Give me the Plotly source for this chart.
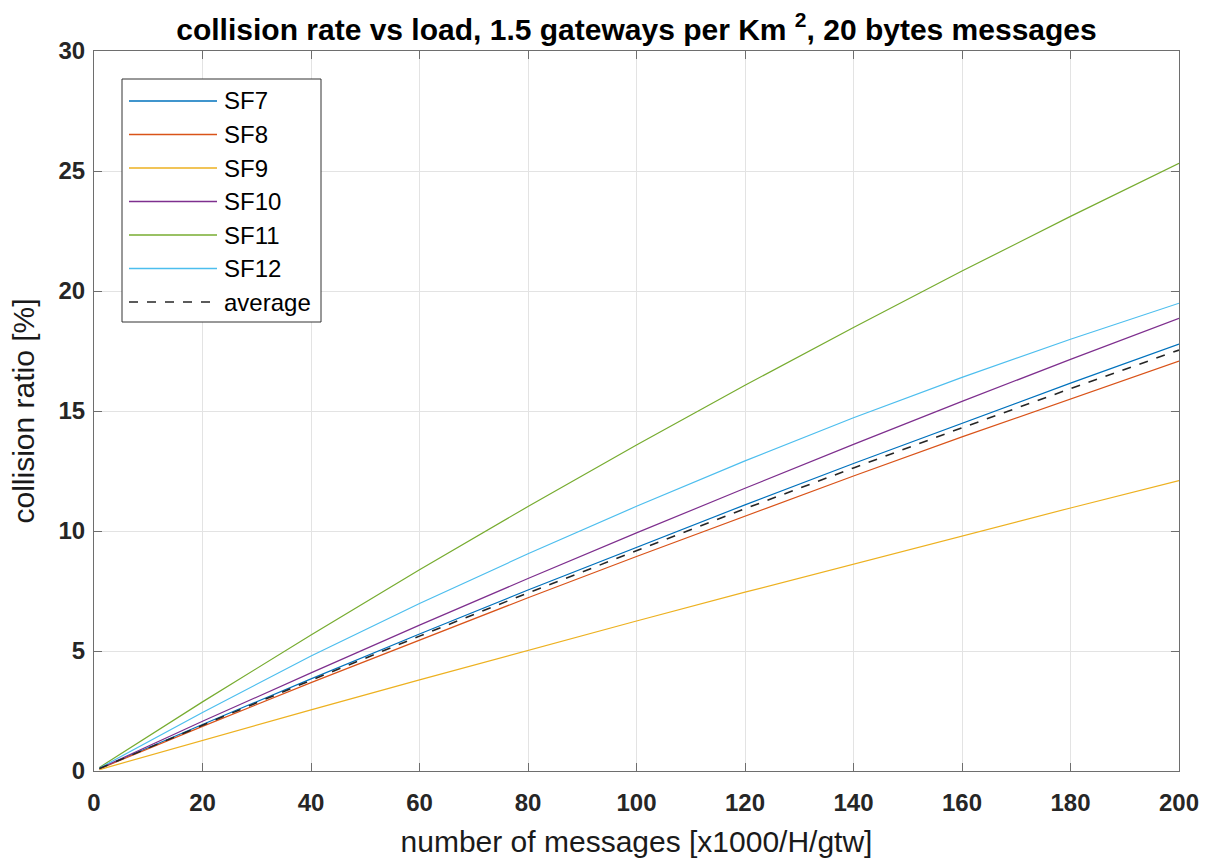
import plotly.graph_objects as go

# Offered load (thousands of messages per hour per gateway)
load = [1, 20, 40, 60, 80, 100, 120, 140, 160, 180, 200]

# Collision ratio [%] per spreading factor
sf7 = [0.10, 1.94, 3.84, 5.71, 7.54, 9.33, 11.09, 12.81, 14.50, 16.16, 17.79]
sf8 = [0.09, 1.86, 3.68, 5.46, 7.22, 8.94, 10.63, 12.29, 13.92, 15.51, 17.08]
sf9 = [0.06, 1.28, 2.55, 3.80, 5.03, 6.25, 7.45, 8.63, 9.80, 10.96, 12.10]
sf10 = [0.10, 2.07, 4.09, 6.08, 8.02, 9.92, 11.78, 13.61, 15.40, 17.15, 18.86]
sf11 = [0.15, 2.88, 5.67, 8.39, 11.02, 13.58, 16.07, 18.48, 20.83, 23.11, 25.32]
sf12 = [0.12, 2.44, 4.79, 6.98, 9.05, 11.03, 12.92, 14.72, 16.40, 17.99, 19.49]
average = [0.10, 1.91, 3.78, 5.62, 7.42, 9.19, 10.93, 12.63, 14.30, 15.93, 17.54]

series_names = ["SF7", "SF8", "SF9", "SF10", "SF11", "SF12", "average"]
series_values = [sf7, sf8, sf9, sf10, sf11, sf12, average]
series_colors = ["#0072BD", "#D95319", "#EDB120", "#7E2F8E", "#77AC30", "#4DBEEE", "#262626"]
series_dash = ["solid"] * 6 + ["dash"]
series_width = [1.2] * 6 + [1.6]

x_ticks = list(range(0, 201, 20))
y_ticks = list(range(0, 31, 5))

FONT = "Liberation Sans, Arial, sans-serif"
INK = "#262626"
AXIS_GRAY = "#6e6e6e"

fig = go.Figure()
for name, vals, col, dash, w in zip(series_names, series_values, series_colors,
                                     series_dash, series_width):
    fig.add_trace(go.Scatter(x=load, y=vals, mode="lines", name=name,
                             line=dict(color=col, width=w, dash=dash),
                             showlegend=False))

# Boxed legend in the upper-left corner (long line samples, MATLAB style)
PLOT_W, PLOT_H = 1085, 720
box_x0, box_x1 = 28 / PLOT_W, 227 / PLOT_W
box_y1, box_y0 = 692 / PLOT_H, 449 / PLOT_H
row_h = 33.5 / PLOT_H
first_row = 670 / PLOT_H
sample_x0, sample_x1 = 35 / PLOT_W, 123 / PLOT_W
label_x = 128 / PLOT_W

shapes = [dict(type="rect", xref="paper", yref="paper",
               x0=box_x0, x1=box_x1, y0=box_y0, y1=box_y1,
               line=dict(color="#333333", width=1), fillcolor="white", layer="above")]
annotations = []
for i, (name, col, dash) in enumerate(zip(series_names, series_colors, series_dash)):
    yy = first_row - i * row_h
    shapes.append(dict(type="line", xref="paper", yref="paper",
                       x0=sample_x0, x1=sample_x1, y0=yy, y1=yy, layer="above",
                       line=dict(color=col, width=1.5, dash=dash)))
    annotations.append(dict(text=name, xref="paper", yref="paper", x=label_x, y=yy,
                            xanchor="left", yanchor="middle", showarrow=False,
                            font=dict(family=FONT, size=24, color="black")))

axis_common = dict(
    showgrid=True, gridcolor="#e3e3e3", gridwidth=1,
    showline=True, linecolor=AXIS_GRAY, linewidth=1, mirror="ticks",
    ticks="inside", ticklen=8, tickcolor=AXIS_GRAY, tickwidth=1,
    zeroline=False, automargin=False,
    tickfont=dict(family=FONT, size=24, color=INK, weight="bold"),
)

fig.update_layout(
    width=1207, height=859,
    paper_bgcolor="white", plot_bgcolor="white",
    margin=dict(l=94, r=28, t=51, b=88),
    title=dict(
        text="collision rate vs load, 1.5 gateways per Km <sup>2</sup>, 20 bytes messages",
        xref="paper", x=0.5, xanchor="center", y=0.966, yanchor="middle",
        font=dict(family=FONT, size=30, color="black", weight="bold"),
    ),
    xaxis=dict(range=[0, 200], tickvals=x_ticks, ticklabelstandoff=10,
               title=dict(text="number of messages [x1000/H/gtw]",
                          font=dict(family=FONT, size=30, color="#1a1a1a"),
                          standoff=16),
               **axis_common),
    yaxis=dict(range=[0, 30], tickvals=y_ticks, ticklabelstandoff=3,
               title=dict(text="collision ratio [%]",
                          font=dict(family=FONT, size=30, color="#1a1a1a"),
                          standoff=14),
               **axis_common),
    shapes=shapes,
    annotations=annotations,
    showlegend=False,
)

fig.write_html("out.html")
